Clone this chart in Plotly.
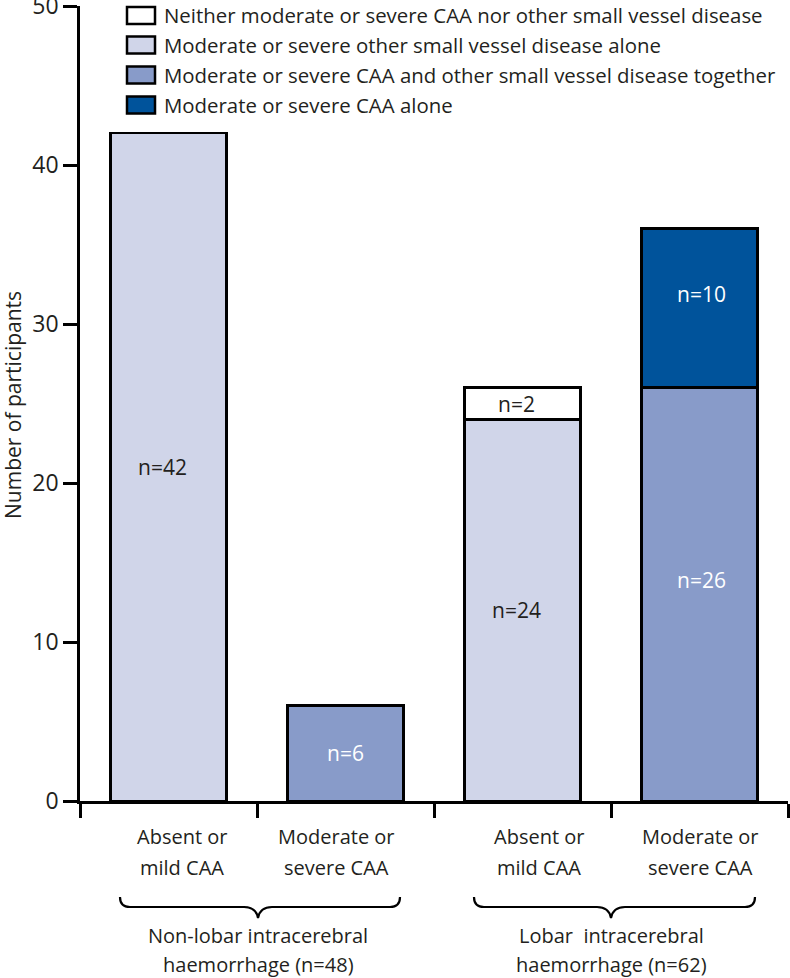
import plotly.graph_objects as go

# ---------------- data ----------------
categories = ["Absent or<br>mild CAA", "Moderate or<br>severe CAA",
              "Absent or<br>mild CAA", "Moderate or<br>severe CAA"]
groups = ["Non-lobar intracerebral<br>haemorrhage (n=48)",
          "Lobar  intracerebral<br>haemorrhage (n=62)"]
series_names = ["Neither moderate or severe CAA nor other small vessel disease",
                "Moderate or severe other small vessel disease alone",
                "Moderate or severe CAA and other small vessel disease together",
                "Moderate or severe CAA alone"]
neither = [None, None, 2, None]
svd_alone = [42, None, 24, None]
caa_svd = [None, 6, None, 26]
caa_alone = [None, None, None, 10]
y_ticks = [0, 10, 20, 30, 40, 50]
y_title = "Number of participants"

# ---------------- styles ----------------
colors = ["#FFFFFF", "#D0D5E9", "#889BC9", "#00539B"]
text_colors = ["#231F20", "#231F20", "#FFFFFF", "#FFFFFF"]
FONT = "Open Sans"
INK = "#231F20"

W, H = 790, 978
L, R, T, B = 80, 2, 6, 177
PW, PH = W - L - R, H - T - B


def px(xp):  # page pixel x -> paper
    return (xp - L) / PW


def py(yp):  # page pixel y -> paper
    return (H - B - yp) / PH


xs = list(range(len(categories)))
series_vals = [neither, svd_alone, caa_svd, caa_alone]
stack_order = [1, 2, 0, 3]

fig = go.Figure()
for k in stack_order:
    vals = series_vals[k]
    fig.add_trace(go.Bar(
        x=xs, y=vals, name=series_names[k],
        marker=dict(color=colors[k], line=dict(color="black", width=2.5)),
        width=0.655,
        showlegend=False, hoverinfo="x+y+name",
    ))

shapes = []
annotations = []

# bar value labels, placed at the middle of each stacked segment
lab_xshift = [-6, 0, -6, 2]
lab_yshift = [0, 0, 0, 14]
base = [0] * len(categories)
for k in stack_order:
    vals = series_vals[k]
    for i, v in enumerate(vals):
        if v:
            annotations.append(dict(xref="x", yref="y", x=xs[i], y=base[i] + v / 2,
                                    xshift=lab_xshift[i], yshift=lab_yshift[i],
                                    showarrow=False, text=f"n={v}",
                                    font=dict(family=FONT, size=21, color=text_colors[k])))
            base[i] += v

# custom legend
row_y = [15.5, 45, 75, 105]
for k in range(len(series_names)):
    cy = row_y[k]
    shapes.append(dict(type="rect", xref="paper", yref="paper",
                       x0=px(127), x1=px(155), y0=py(cy - 8.5), y1=py(cy + 8.5),
                       fillcolor=colors[k], line=dict(color="black", width=2.5)))
    annotations.append(dict(xref="paper", yref="paper", x=px(162), y=py(cy),
                            xanchor="left", yanchor="middle", showarrow=False,
                            text=series_names[k],
                            font=dict(family=FONT, size=20.4, color=INK)))

# category labels (two lines each)
label_shift = [13, -9, 16, 1]
for i, c in enumerate(categories):
    for j, line in enumerate(c.split("<br>")):
        annotations.append(dict(xref="x", yref="paper", x=xs[i], y=py(836 + 31 * j),
                                xshift=label_shift[i], xanchor="center", yanchor="middle",
                                showarrow=False, text=line,
                                font=dict(family=FONT, size=20, color=INK)))

# group braces and labels
brace_px = [(120, 258, 400), (474, 611, 755)]
for g, (a, m, b) in enumerate(brace_px):
    yt, yh, ytip = 897, 907, 918
    path = (f"M {px(a)},{py(yt)} Q {px(a)},{py(yh)} {px(a + 10)},{py(yh)} "
            f"L {px(m - 14)},{py(yh)} Q {px(m - 2)},{py(yh)} {px(m)},{py(ytip)} "
            f"Q {px(m + 2)},{py(yh)} {px(m + 14)},{py(yh)} "
            f"L {px(b - 10)},{py(yh)} Q {px(b)},{py(yh)} {px(b)},{py(yt)}")
    shapes.append(dict(type="path", xref="paper", yref="paper", path=path,
                       line=dict(color="black", width=2.2)))
    for j, line in enumerate(groups[g].split("<br>")):
        annotations.append(dict(xref="paper", yref="paper", x=px(m), y=py(935 + 29 * j),
                                xanchor="center", yanchor="middle", showarrow=False,
                                text=line.replace("  ", "&nbsp; "),
                                font=dict(family=FONT, size=20, color=INK)))

# y axis title
annotations.append(dict(xref="paper", yref="paper", x=px(13), y=py(405),
                        xanchor="center", yanchor="middle", showarrow=False,
                        textangle=-90, text=y_title,
                        font=dict(family=FONT, size=21, color=INK)))

fig.update_layout(
    width=W, height=H,
    margin=dict(l=L, r=R, t=T, b=B, autoexpand=False),
    barmode="stack",
    plot_bgcolor="white", paper_bgcolor="white",
    shapes=shapes, annotations=annotations,
    font=dict(family=FONT, color=INK),
)
fig.update_xaxes(range=[-0.5, len(categories) - 0.5], showgrid=False, zeroline=False,
                 automargin=False,
                 showline=True, linecolor="black", linewidth=2.5,
                 tickmode="array", tickvals=[i - 0.5 for i in range(len(categories) + 1)],
                 ticktext=[""] * (len(categories) + 1),
                 ticks="outside", ticklen=14, tickwidth=2.5, tickcolor="black")
fig.update_yaxes(range=[0, 50], showgrid=False, zeroline=False,
                 automargin=False,
                 showline=True, linecolor="black", linewidth=2.5,
                 tickmode="array", tickvals=y_ticks,
                 ticks="outside", ticklen=14, tickwidth=2.5, tickcolor="black",
                 ticklabeloverflow="allow",
                 tickfont=dict(family=FONT, size=23, color=INK))

fig.write_html("out.html", config={"displayModeBar": False},
               post_script="document.body.style.margin='0';document.body.style.padding='0';")
